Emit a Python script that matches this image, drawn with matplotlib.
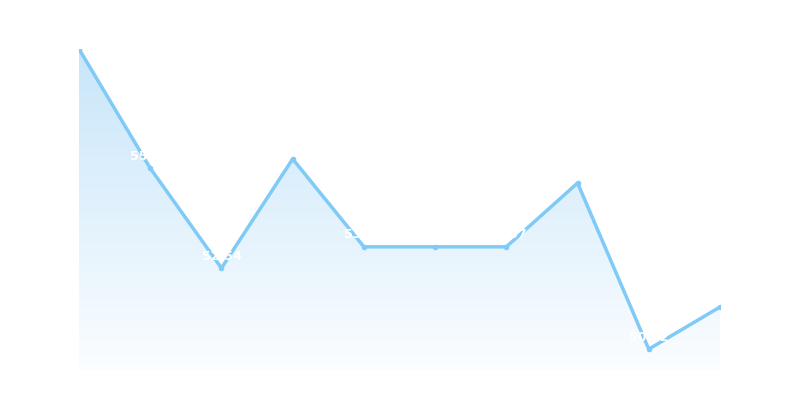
import matplotlib
matplotlib.use("Agg")
import matplotlib.pyplot as plt
import numpy as np
from matplotlib.colors import LinearSegmentedColormap
from matplotlib.patches import Polygon

categories = ["1", "2", "3", "4", "5", "6", "7", "8", "9", "10"]
values = [58.00, 55.03, 52.54, 55.26, 53.07, 53.07, 53.07, 54.66, 50.52, 51.57]
ymin, ymax = 50.0, 58.0

line_color = "#7fcaf6"

fig = plt.figure(figsize=(8, 4), dpi=100)
ax = fig.add_axes([79/800, 30/400, 641/800, 321/400])
x = np.arange(len(values))

ax.set_xlim(0, len(values) - 1)
ax.set_ylim(ymin, ymax)

# gradient fill
cmap = LinearSegmentedColormap.from_list("g", ["#fbfdff", "#c8e6fa"])
grad = np.linspace(0, 1, 256).reshape(-1, 1)
im = ax.imshow(grad, aspect="auto", cmap=cmap, origin="lower",
               extent=[0, len(values) - 1, ymin, ymax], zorder=1)
verts = np.concatenate([np.column_stack([x, values]),
                        np.column_stack([x[::-1], np.full(len(x), ymin)])])
clip = Polygon(verts, closed=True, transform=ax.transData)
im.set_clip_path(clip)

ax.plot(x, values, color=line_color, lw=2.5, zorder=3,
        marker="o", markersize=4, markeredgewidth=0)

for xi, v in zip(x, values):
    ax.annotate(f"{v:.2f}", (xi, v), xytext=(0, 4), textcoords="offset points",
                ha="center", va="bottom", color="white", fontsize=9,
                fontweight="bold", zorder=4)

ax.axis("off")
fig.savefig("out.png", dpi=100)
